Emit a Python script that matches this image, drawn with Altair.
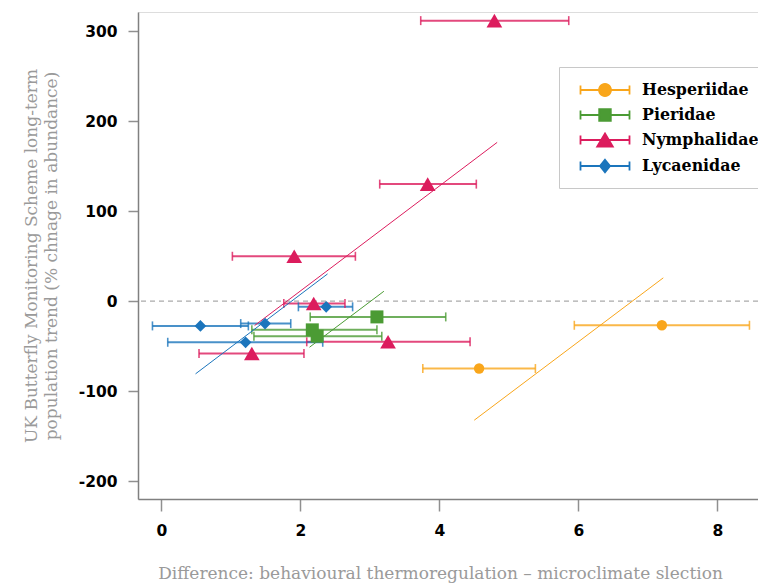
import math
import altair as alt
import pandas as pd

# ---------------- data ----------------
families = ["Hesperiidae", "Pieridae", "Nymphalidae", "Lycaenidae"]
colors = ["#f9a61b", "#4b9b34", "#dc1c5d", "#1b75bc"]

pt_family = (["Hesperiidae"] * 2 + ["Pieridae"] * 3 + ["Nymphalidae"] * 6 + ["Lycaenidae"] * 4)
pt_x = [4.57, 7.20, 3.10, 2.17, 2.24, 4.79, 3.83, 1.91, 2.19, 3.26, 1.30, 0.56, 1.49, 1.21, 2.37]
pt_y = [-75.0, -26.9, -17.6, -32.0, -39.0, 311.7, 130.0, 49.8, -2.7, -45.3, -58.3, -27.6, -25.0, -45.8, -6.4]
pt_lo = [3.76, 5.94, 2.14, 1.30, 1.33, 3.73, 3.14, 1.02, 1.76, 2.09, 0.54, -0.13, 1.14, 0.09, 1.97]
pt_hi = [5.38, 8.46, 4.09, 3.10, 3.17, 5.86, 4.53, 2.79, 2.64, 4.44, 2.05, 1.25, 1.86, 2.32, 2.75]

line_family = families
line_x1 = [4.50, 2.13, 1.34, 0.49]
line_y1 = [-132.4, -51.3, -27.2, -80.9]
line_x2 = [7.22, 3.20, 4.83, 2.39]
line_y2 = [25.8, 10.9, 176.4, 30.2]

x_ticks = [0, 2, 4, 6, 8]
y_ticks = [-200, -100, 0, 100, 200, 300]

x_title = "Difference: behavioural thermoregulation \u2013 microclimate slection"
y_title = ["UK Butterfly Monitoring Scheme long-term",
           "population trend (% chnage in abundance)"]

# ---------------- tables ----------------
pts = pd.DataFrame({"family": pt_family, "x": pt_x, "y": pt_y, "lo": pt_lo, "hi": pt_hi})
lines = pd.DataFrame({"family": line_family, "x1": line_x1, "y1": line_y1,
                      "x2": line_x2, "y2": line_y2})
zero = pd.DataFrame({"y": [0]})

XDOM = [-0.338, 8.583]
YDOM = [-220, 321.3]

xscale = alt.Scale(domain=XDOM, nice=False, zero=False)
yscale = alt.Scale(domain=YDOM, nice=False, zero=False)
# colour scale for the drawn marks (domain listed in reverse so that it is not
# merged with the legend's fill/stroke/shape scales)
cscale = alt.Scale(domain=families[::-1], range=colors[::-1])

x_axis = alt.Axis(values=x_ticks, labelExpr="'' + datum.value", grid=False,
                  domainColor="#808080", domainWidth=1.5,
                  tickColor="#909090", tickWidth=1.5, tickSize=12,
                  labelFont="DejaVu Sans", labelFontWeight="bold", labelFontSize=15.5,
                  labelColor="black", labelPadding=12,
                  title=x_title, titleFont="DejaVu Serif", titleFontWeight="normal",
                  titleFontSize=17, titleColor="#9a9a9a", titleX=302, titleY=74,
                  titleAlign="center", titleBaseline="middle")
y_axis = alt.Axis(values=y_ticks, labelExpr="'' + datum.value", grid=False,
                  domainColor="#808080", domainWidth=1.5,
                  tickColor="#909090", tickWidth=1.5, tickSize=10,
                  labelFont="DejaVu Sans", labelFontWeight="bold", labelFontSize=15.5,
                  labelColor="black", labelPadding=11,
                  title=y_title, titleFont="DejaVu Serif", titleFontWeight="normal",
                  titleFontSize=17, titleColor="#9a9a9a", titleX=-107, titleY=243.5,
                  titleAngle=270, titleAlign="center", titleBaseline="middle",
                  titleLineHeight=20)

zero_rule = alt.Chart(zero).mark_rule(color="#aaaaaa", strokeDash=[5, 4], strokeWidth=1.3).encode(
    y=alt.Y("y:Q", scale=yscale, axis=y_axis)
)

reg = alt.Chart(lines).mark_rule(strokeWidth=1).encode(
    x=alt.X("x1:Q", scale=xscale, axis=x_axis), y=alt.Y("y1:Q", scale=yscale),
    x2="x2:Q", y2="y2:Q",
    color=alt.Color("family:N", scale=cscale, legend=None),
)

bars = alt.Chart(pts).mark_rule(strokeWidth=2, opacity=0.8).encode(
    x=alt.X("lo:Q", scale=xscale), x2="hi:Q", y=alt.Y("y:Q", scale=yscale),
    color=alt.Color("family:N", scale=cscale, legend=None),
)
cap_lo = alt.Chart(pts).mark_tick(orient="vertical", size=9, thickness=1.6, opacity=0.8).encode(
    x=alt.X("lo:Q", scale=xscale), y=alt.Y("y:Q", scale=yscale),
    color=alt.Color("family:N", scale=cscale, legend=None),
)
cap_hi = alt.Chart(pts).mark_tick(orient="vertical", size=9, thickness=1.6, opacity=0.8).encode(
    x=alt.X("hi:Q", scale=xscale), y=alt.Y("y:Q", scale=yscale),
    color=alt.Color("family:N", scale=cscale, legend=None),
)

point_layers = []
for fam, shp, sz in zip(families, ["circle", "square", "triangle-up", "diamond"], [108, 169, 246, 137]):
    point_layers.append(
        alt.Chart(pts).transform_filter(alt.datum.family == fam)
        .mark_point(shape=shp, size=sz, filled=True, opacity=1)
        .encode(x=alt.X("x:Q", scale=xscale), y=alt.Y("y:Q", scale=yscale),
                color=alt.Color("family:N", scale=cscale, legend=None))
    )

# legend symbols: error bar + marker as custom SVG paths (unit = 10 px)
def poly(pairs):
    return "M" + "L".join(f"{a:.3f},{b:.3f}" for a, b in pairs) + "Z"

L = "M-2.45,0L2.45,0M-2.45,-0.45L-2.45,0.45M2.45,-0.45L2.45,0.45"
circ = poly([(0.6 * math.cos(2 * math.pi * k / 24), 0.6 * math.sin(2 * math.pi * k / 24)) for k in range(24)])
leg_paths = [
    L + circ,
    L + poly([(-0.58, -0.58), (0.58, -0.58), (0.58, 0.58), (-0.58, 0.58)]),
    L + poly([(0, -0.66), (0.78, 0.66), (-0.78, 0.66)]),
    L + poly([(0, -0.62), (0.5, 0), (0, 0.62), (-0.5, 0)]),
]
legend = alt.Legend(title=None, orient="none", legendX=421, legendY=55, padding=12,
                    fillColor="white", strokeColor="#c8c8c8",
                    symbolSize=400, symbolStrokeWidth=1.8, symbolOpacity=1,
                    symbolOffset=23, labelOffset=26,
                    labelFont="DejaVu Serif", labelFontSize=15.8, labelFontWeight="bold",
                    labelColor="black", rowPadding=4)
legend_layer = alt.Chart(pts).mark_point(filled=True, size=0).encode(
    x=alt.X("x:Q", scale=xscale), y=alt.Y("y:Q", scale=yscale),
    shape=alt.Shape("family:N", scale=alt.Scale(domain=families, range=leg_paths), legend=legend),
    fill=alt.Fill("family:N", scale=alt.Scale(domain=families, range=colors), legend=legend),
    stroke=alt.Stroke("family:N", scale=alt.Scale(domain=families, range=colors), legend=legend),
)

chart = alt.layer(zero_rule, bars, cap_lo, cap_hi, reg, *point_layers, legend_layer).properties(
    width=620, height=487,
    padding={"left": 130, "top": 4, "right": 0, "bottom": 84},
    autosize=alt.AutoSizeParams(type="none"),
).configure_view(stroke=None).configure(background="white")

chart.save("out.html", embed_options={"renderer": "svg", "actions": False})
